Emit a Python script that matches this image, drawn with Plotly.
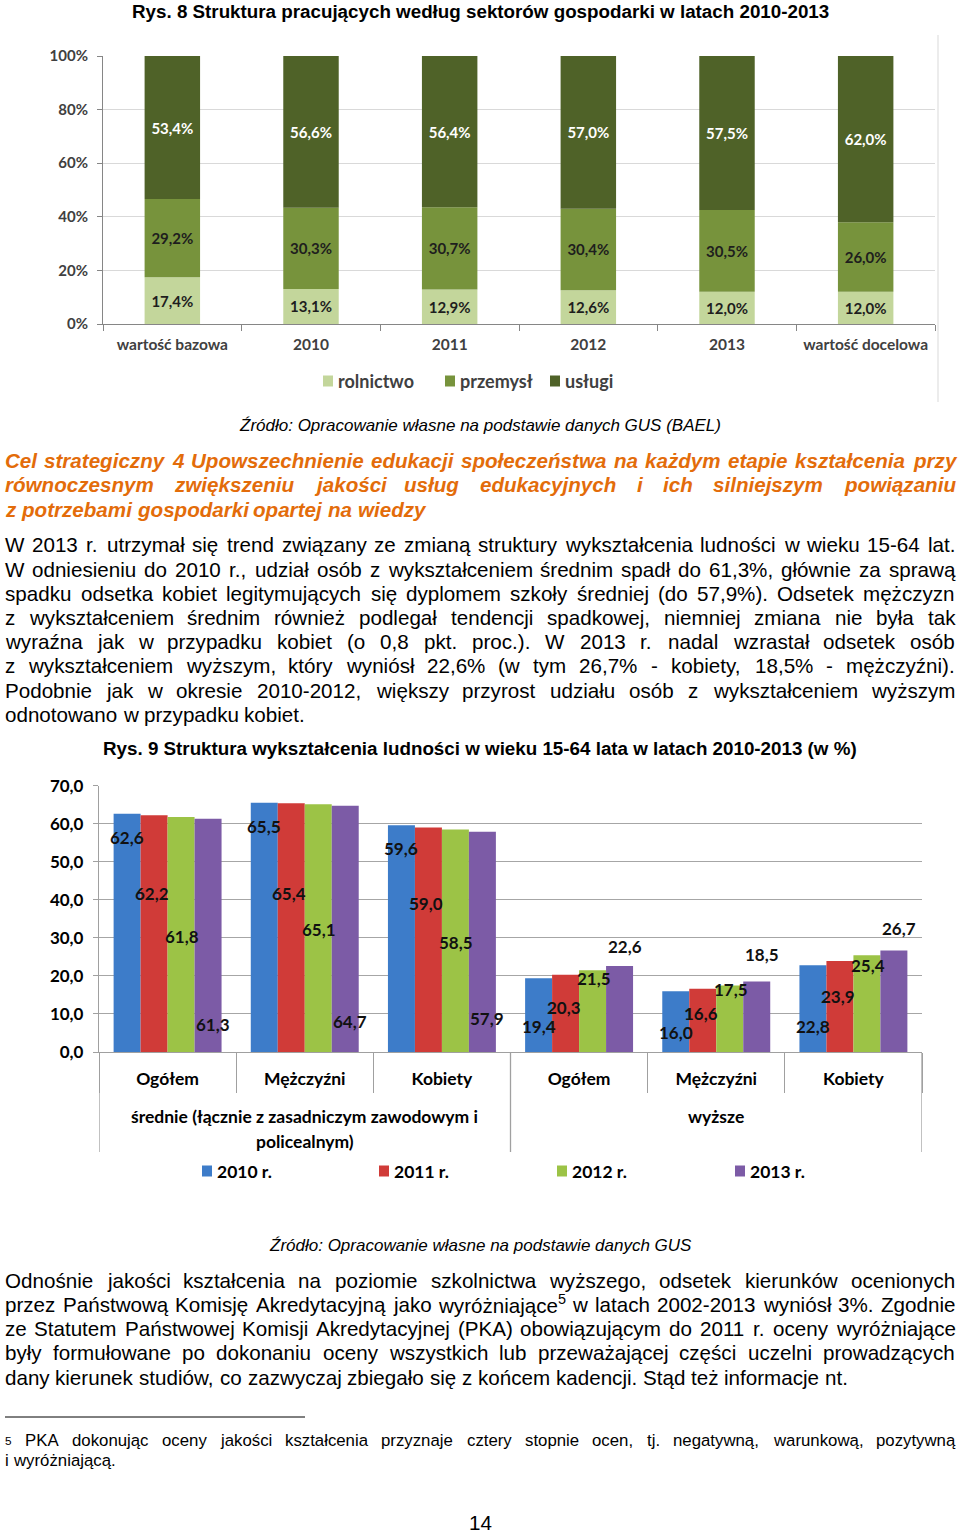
import unicodedata
import plotly.graph_objects as go

W, H = 960, 1535


def px(x):
    return x / W


def py(y):
    return 1 - y / H


# ---------------- Chart 1 data ----------------
c1_categories = ["wartość bazowa", "2010", "2011", "2012", "2013", "wartość docelowa"]
c1_rolnictwo = [17.4, 13.1, 12.9, 12.6, 12.0, 12.0]
c1_przemysl = [29.2, 30.3, 30.7, 30.4, 30.5, 26.0]
c1_uslugi = [53.4, 56.6, 56.4, 57.0, 57.5, 62.0]
c1_names = ["rolnictwo", "przemysł", "usługi"]
c1_ticks = [0, 20, 40, 60, 80, 100]

# ---------------- Chart 2 data ----------------
c2_subcats = ["Ogółem", "Mężczyźni", "Kobiety", "Ogółem", "Mężczyźni", "Kobiety"]
c2_groups = ["średnie (łącznie z zasadniczym zawodowym i<br>policealnym)", "wyższe"]
c2_years = ["2010 r.", "2011 r.", "2012 r.", "2013 r."]
c2_2010 = [62.6, 65.5, 59.6, 19.4, 16.0, 22.8]
c2_2011 = [62.2, 65.4, 59.0, 20.3, 16.6, 23.9]
c2_2012 = [61.8, 65.1, 58.5, 21.5, 17.5, 25.4]
c2_2013 = [61.3, 64.7, 57.9, 22.6, 18.5, 26.7]

# label placement (style: where the data labels sit, in axis units)
c2_label_y = [
    [56.4, 59.3, 53.5, 6.6, 5.2, 6.6],
    [41.7, 41.7, 39.1, 11.8, 10.0, 14.7],
    [30.4, 32.3, 28.9, 19.2, 16.5, 22.8],
    [7.1, 8.1, 8.7, 27.8, 25.5, 32.5],
]
c2_label_xshift = [0, -2, 1, 5]

# ---------------- Text ----------------
title1 = "Rys. 8 Struktura pracujących według sektorów gospodarki w latach 2010-2013"
source1 = "Źródło: Opracowanie własne na podstawie danych GUS (BAEL)"
title2 = "Rys. 9 Struktura wykształcenia ludności w wieku 15-64 lata w latach 2010-2013 (w %)"
source2 = "Źródło: Opracowanie własne na podstawie danych GUS"
heading_lines = [
    "Cel strategiczny 4 Upowszechnienie edukacji społeczeństwa na każdym etapie kształcenia przy",
    "równoczesnym zwiększeniu jakości usług edukacyjnych i ich silniejszym powiązaniu",
    "z potrzebami gospodarki opartej na wiedzy",
]
para1_lines = [
    "W 2013 r. utrzymał się trend związany ze zmianą struktury wykształcenia ludności w wieku 15-64 lat.",
    "W odniesieniu do 2010 r., udział osób z wykształceniem średnim spadł do 61,3%, głównie za sprawą",
    "spadku odsetka kobiet legitymujących się dyplomem szkoły średniej (do 57,9%). Odsetek mężczyzn",
    "z wykształceniem średnim również podlegał tendencji spadkowej, niemniej zmiana nie była tak",
    "wyraźna jak w przypadku kobiet (o 0,8 pkt. proc.). W 2013 r. nadal wzrastał odsetek osób",
    "z wykształceniem wyższym, który wyniósł 22,6% (w tym 26,7% - kobiety, 18,5% - mężczyźni).",
    "Podobnie jak w okresie 2010-2012, większy przyrost udziału osób z wykształceniem wyższym",
    "odnotowano w przypadku kobiet.",
]
para2_lines = [
    "Odnośnie jakości kształcenia na poziomie szkolnictwa wyższego, odsetek kierunków ocenionych",
    "przez Państwową Komisję Akredytacyjną jako wyróżniające⁵ w latach 2002-2013 wyniósł 3%. Zgodnie",
    "ze Statutem Państwowej Komisji Akredytacyjnej (PKA) obowiązującym do 2011 r. oceny wyróżniające",
    "były formułowane po dokonaniu oceny wszystkich lub przeważającej części uczelni prowadzących",
    "dany kierunek studiów, co zazwyczaj zbiegało się z końcem kadencji. Stąd też informacje nt.",
]
footnote_lines = [
    "⁵ PKA dokonując oceny jakości kształcenia przyznaje cztery stopnie ocen, tj. negatywną, warunkową, pozytywną",
    "i wyróżniającą.",
]
page_number = "14"

# ---------------- Styles ----------------
ARIAL = "Liberation Sans, Arial, Helvetica, sans-serif"
LATO = "Lato, Open Sans, sans-serif"
C1_COLORS = ["#c3d69b", "#77933c", "#4f6228"]
C1_TEXT = ["#1e1e1e", "#1e1e1e", "#ffffff"]
C2_COLORS = ["#3d7cc9", "#d03b38", "#9cc346", "#7c5ba6"]
ORANGE = "#e36c0a"
BARGAP = 0.213
# legend layout (pixel x of each swatch, legend row y)
LEG1_X, LEG1_Y = [323, 445, 550], 381
LEG2_X, LEG2_Y = [202, 379, 557, 735], 1171

# Arial metrics (1/1000 em) used to justify the body text
_asc = "".join(chr(c) for c in range(32, 127))
_reg = [278, 278, 355, 556, 556, 889, 667, 191, 333, 333, 389, 584, 278, 333, 278, 278,
        556, 556, 556, 556, 556, 556, 556, 556, 556, 556, 278, 278, 584, 584, 584, 556, 1015,
        667, 667, 722, 722, 667, 611, 778, 722, 278, 500, 667, 556, 833, 722, 778, 667, 778,
        722, 667, 611, 722, 667, 944, 667, 667, 611, 278, 278, 278, 469, 556, 333,
        556, 556, 500, 556, 556, 278, 556, 556, 222, 222, 500, 222, 833, 556, 556, 556, 556,
        333, 500, 278, 556, 500, 722, 500, 500, 500, 334, 260, 334, 584]
_bold = [278, 333, 474, 556, 556, 889, 722, 238, 333, 333, 389, 584, 278, 333, 278, 278,
         556, 556, 556, 556, 556, 556, 556, 556, 556, 556, 333, 333, 584, 584, 584, 611, 975,
         722, 722, 722, 722, 667, 611, 778, 722, 278, 556, 722, 611, 833, 722, 778, 667, 778,
         722, 667, 611, 722, 667, 944, 667, 667, 611, 333, 278, 333, 584, 556, 333,
         556, 611, 556, 611, 556, 333, 611, 611, 278, 278, 556, 278, 889, 611, 611, 611, 611,
         389, 556, 333, 611, 556, 778, 556, 556, 500, 389, 280, 389, 584]
REG = dict(zip(_asc, _reg))
BOLD = dict(zip(_asc, _bold))


def char_w(c, table):
    if c == "⁵":
        return 0.7 * 556
    if c in table:
        return table[c]
    if c == "ł":
        return table["l"]
    if c == "Ł":
        return table["L"]
    base = unicodedata.normalize("NFD", c)[0]
    return table.get(base, 556)


def text_w(s, table, size):
    return sum(char_w(c, table) for c in s) / 1000.0 * size


annotations = []
shapes = []


def add_text(text, x, y, size, family=ARIAL, color="#000000", weight="normal",
             style="normal", xanchor="left", xref="paper", yref="paper"):
    annotations.append(dict(
        text=text, x=x, y=y, xref=xref, yref=yref, xanchor=xanchor, yanchor="middle",
        showarrow=False, borderpad=0, borderwidth=0,
        font=dict(family=family, size=size, color=color, weight=weight, style=style),
    ))


def add_paragraph(lines, y0, dy, size, table, color="#000000", weight="normal",
                  style="normal", x0=5, x1=955):
    for li, line in enumerate(lines):
        y = y0 + li * dy
        words = line.split(" ")
        widths = [text_w(w, table, size) for w in words]
        last = li == len(lines) - 1
        if not last and len(words) > 1:
            gap = (x1 - x0 - sum(widths)) / (len(words) - 1)
        else:
            gap = text_w(" ", table, size)
        x = x0
        for w, wd in zip(words, widths):
            add_text(w.replace("⁵", "<sup>5</sup>"), px(x), py(y), size, color=color,
                     weight=weight, style=style)
            x += wd + gap


def add_legend(names, colors, xs_px, y_px, size, color, box=(10, 11), gap=5):
    for name, col, x in zip(names, colors, xs_px):
        shapes.append(dict(type="rect", xref="paper", yref="paper",
                           x0=px(x), x1=px(x + box[0]),
                           y0=py(y_px + box[1] / 2), y1=py(y_px - box[1] / 2),
                           fillcolor=col, line=dict(width=0)))
        add_text(name, px(x + box[0] + gap), py(y_px), size, family=LATO, color=color,
                 weight="bold")


fig = go.Figure()

# ---------------- Chart 1: stacked bars ----------------
base = [0.0] * len(c1_categories)
for name, vals, col, tcol in zip(c1_names, [c1_rolnictwo, c1_przemysl, c1_uslugi], C1_COLORS, C1_TEXT):
    fig.add_trace(go.Bar(
        x=c1_categories, y=vals, base=list(base), name=name,
        marker=dict(color=col, line=dict(width=0)), width=0.4, offsetgroup="c1",
        text=[f"{v:.1f}".replace(".", ",") + "%" for v in vals],
        textposition="inside", insidetextanchor="middle", constraintext="none",
        textangle=0,
        textfont=dict(family=LATO, size=15, color=tcol, weight="bold"),
        xaxis="x", yaxis="y", showlegend=False, hoverinfo="skip",
    ))
    base = [b + v for b, v in zip(base, vals)]

# ---------------- Chart 2: grouped bars ----------------
c2_series = [c2_2010, c2_2011, c2_2012, c2_2013]
xs = list(range(len(c2_subcats)))
for name, vals, col in zip(c2_years, c2_series, C2_COLORS):
    fig.add_trace(go.Bar(
        x=xs, y=vals, name=name, marker=dict(color=col, line=dict(width=0)),
        xaxis="x2", yaxis="y2", showlegend=False, hoverinfo="skip",
    ))

bw = (1 - BARGAP) / len(c2_series)
for k, vals in enumerate(c2_series):
    for i, v in enumerate(vals):
        annotations.append(dict(
            text=f"{v:.1f}".replace(".", ","), x=i + (k - 1.5) * bw, y=c2_label_y[k][i],
            xref="x2", yref="y2", xanchor="center", yanchor="middle", showarrow=False,
            xshift=c2_label_xshift[k], borderpad=0, borderwidth=0,
            font=dict(family=LATO, size=17, color="#111111", weight="bold"),
        ))

for gi, g in enumerate(c2_groups):
    for li, part in enumerate(g.split("<br>")):
        annotations.append(dict(
            text=part, x=1 + gi * 3, y=py(1116 + li * 25), xref="x2", yref="paper",
            xanchor="center", yanchor="middle", showarrow=False,
            font=dict(family=LATO, size=17.5, color="#000000", weight="bold"),
        ))

add_legend(c1_names, C1_COLORS, LEG1_X, LEG1_Y, 18, "#404040")
add_legend(c2_years, C2_COLORS, LEG2_X, LEG2_Y, 17.5, "#000000")

# ---------------- Titles, sources, body text ----------------
add_text(title1, px(480), py(11), 18.8, weight="bold", xanchor="center")
add_text(source1, px(480), py(425), 17, style="italic", xanchor="center")
add_text(title2, px(480), py(749), 18.8, weight="bold", xanchor="center")
add_text(source2, px(480), py(1245), 17, style="italic", xanchor="center")
add_paragraph(heading_lines, 461, 24, 20.6, BOLD, color=ORANGE, weight="bold", style="italic")
add_paragraph(para1_lines, 545, 24.17, 20.6, REG)
add_paragraph(para2_lines, 1280, 24.25, 20.6, REG)
add_paragraph(footnote_lines, 1440, 20, 16.8, REG)
add_text(page_number, px(480), py(1522), 20.6, xanchor="center")

shapes += [
    dict(type="line", xref="paper", yref="paper", x0=px(938), x1=px(938), y0=py(35), y1=py(402),
         line=dict(color="#d9d9d9", width=1)),
    dict(type="line", xref="paper", yref="paper", x0=px(5), x1=px(305), y0=py(1417), y1=py(1417),
         line=dict(color="#000000", width=1)),
]
for xv in [-0.5, 2.5, 5.5]:
    shapes.append(dict(type="line", xref="x2", yref="paper", x0=xv, x1=xv, y0=py(1052), y1=py(1152),
                       line=dict(color="#a0a0a0", width=1.3)))

fig.update_layout(
    width=W, height=H, margin=dict(l=0, r=0, t=0, b=0, pad=0, autoexpand=False), autosize=False,
    paper_bgcolor="#ffffff", plot_bgcolor="#ffffff",
    separators=", ", barmode="group", bargap=BARGAP, bargroupgap=0,
    annotations=annotations, shapes=shapes, showlegend=False,
    xaxis=dict(
        domain=[px(103), px(935)], type="category", range=[-0.5, 5.5], anchor="y",
        showline=True, linecolor="#868686", linewidth=1, ticks="outside", tickson="boundaries",
        ticklen=6, tickcolor="#868686", showgrid=False, zeroline=False, fixedrange=True,
        tickfont=dict(family=LATO, size=15.5, color="#404040", weight="bold"),
        ticklabelstandoff=6, automargin=False,
    ),
    yaxis=dict(
        domain=[py(324), py(56)], range=[0, 100], tickmode="array", tickvals=c1_ticks,
        ticktext=[f"{t}%" for t in c1_ticks], anchor="x",
        showline=True, linecolor="#868686", linewidth=1, ticks="outside", ticklen=5,
        tickcolor="#868686", showgrid=True, gridcolor="#d9d9d9", gridwidth=1, zeroline=False,
        tickfont=dict(family=LATO, size=15, color="#404040", weight="bold"),
        ticklabelstandoff=6, fixedrange=True, automargin=False,
    ),
    xaxis2=dict(
        domain=[px(99), px(922)], range=[-0.5, 5.5], anchor="y2", tickmode="array",
        tickvals=xs, ticktext=c2_subcats, ticks="", showline=True, linecolor="#a0a0a0",
        linewidth=1.3, showgrid=False, zeroline=False, fixedrange=True,
        tickfont=dict(family=LATO, size=17.5, color="#000000", weight="bold"),
        ticklabelstandoff=11, automargin=False,
        minor=dict(tickmode="array", tickvals=[i - 0.5 for i in range(len(xs) + 1)],
                   ticks="outside", ticklen=40, tickcolor="#a0a0a0", tickwidth=1.3, showgrid=False),
    ),
    yaxis2=dict(
        domain=[py(1052), py(785.7)], range=[0, 70], dtick=10, tickformat=".1f", anchor="x2",
        showline=True, linecolor="#a0a0a0", linewidth=1.3, ticks="outside", ticklen=5,
        tickcolor="#a0a0a0", showgrid=True, gridcolor="#a6a6a6", gridwidth=1.3, zeroline=False,
        tickfont=dict(family=LATO, size=17, color="#000000", weight="bold"),
        ticklabelstandoff=6, fixedrange=True, automargin=False,
    ),
)

fig.write_html("out.html", config={"displayModeBar": False},
               post_script="document.documentElement.style.margin='0';document.body.style.margin='0';")
